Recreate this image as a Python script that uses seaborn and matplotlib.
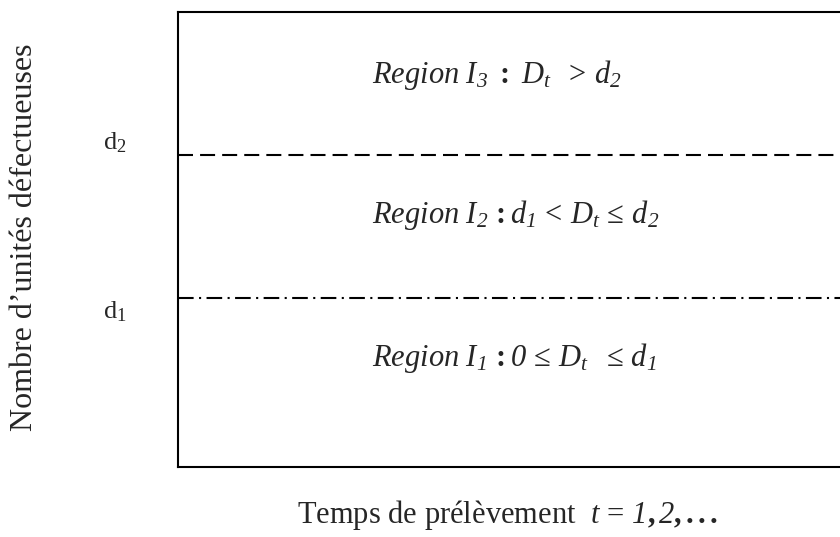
import matplotlib
matplotlib.use("Agg")
import matplotlib.pyplot as plt
import seaborn as sns

# thresholds on the number of defective units (d1, d2) and region texts
time_range = [0, 10]
count_range = [0, 10]
thresholds = [3.71, 6.86]
threshold_names = [r"$\mathrm{d}_{1}$", r"$\mathrm{d}_{2}$"]
threshold_styles = ["dashdot", "dashed"]
# \mathsf is mapped to the italic serif below, so digits come out slanted
region_labels = [
    r"$Region\ I_{\mathsf{1}}\,\mathbf{:}\mathsf{0}\,\leq\,D_t\ \ \leq\,d_{\mathsf{1}}$",
    r"$Region\ I_{\mathsf{2}}\,\mathbf{:}d_{\mathsf{1}}\,<\,D_t\,\leq\,d_{\mathsf{2}}$",
    r"$Region\ I_{\mathsf{3}}\ \mathbf{:}\ D_t\ \ >\,d_{\mathsf{2}}$",
]
region_y = [2.40, 5.54, 8.62]

sns.set_theme(style="white")
plt.rcParams["font.family"] = ["Liberation Serif", "DejaVu Serif"]
plt.rcParams["mathtext.fontset"] = "custom"
plt.rcParams["mathtext.rm"] = "Liberation Serif"
plt.rcParams["mathtext.it"] = "Liberation Serif:italic"
plt.rcParams["mathtext.sf"] = "Liberation Serif:italic"
plt.rcParams["mathtext.bf"] = "Liberation Serif:bold"

fig = plt.figure(figsize=(8.4, 5.37), dpi=100)
ax = fig.add_axes([178 / 840, 70 / 537, 662 / 840, 455 / 537])
ax.set_xlim(time_range)
ax.set_ylim(count_range)

dash_patterns = {"dashed": (0, (7.2, 3.4)), "dashdot": (0, (7.5, 2.6, 1.0, 2.6))}
for y, style, name in zip(thresholds, threshold_styles, threshold_names):
    sns.lineplot(x=time_range, y=[y, y], ax=ax, color="black", lw=1.5,
                 linestyle=dash_patterns[style])
    off = 0.27 if style == "dashed" else -0.3
    ax.text(-0.95, y + off, name, fontsize=19, ha="center", va="center",
            clip_on=False)

for y, lab in zip(region_y, region_labels):
    ax.text(2.93, y, lab, fontsize=22, ha="left", va="center")

for side in ["left", "top", "bottom"]:
    ax.spines[side].set_color("black")
    ax.spines[side].set_linewidth(1.5)
ax.spines["right"].set_visible(False)
ax.set_xticks([])
ax.set_yticks([])

fig.text(25 / 840, 1 - 237 / 537, "Nombre d\u2019unit\u00e9s d\u00e9fectueuses",
         rotation=90, fontsize=23, ha="center", va="center")
fig.text(508 / 840, 1 - 515 / 537,
         r"Temps de prélèvement  $t\,=\,\mathsf{1}\mathbf{,}\,\mathsf{2}\mathbf{,...}$",
         fontsize=22, ha="center", va="center")

fig.savefig("out.png", dpi=100, facecolor="white")
